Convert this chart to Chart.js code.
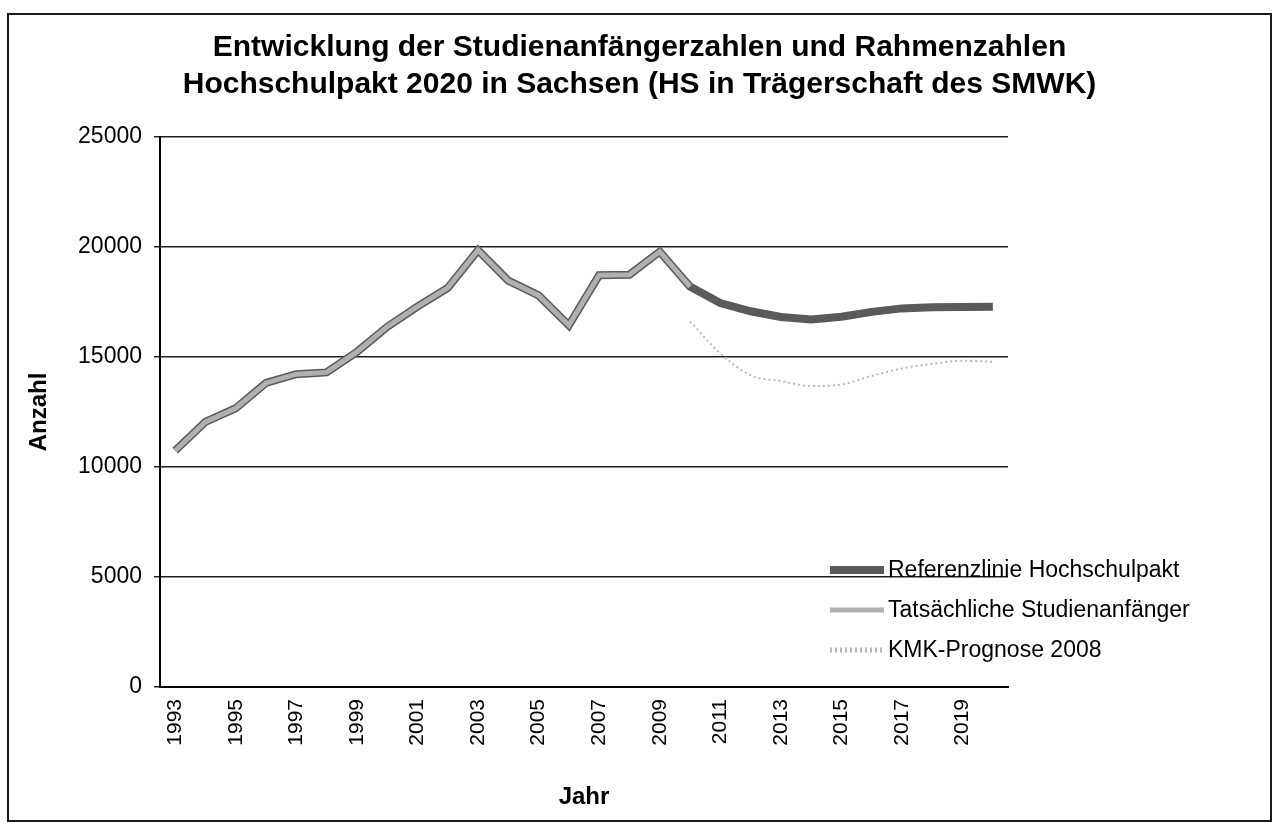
<!DOCTYPE html>
<html lang="de">
<head>
<meta charset="utf-8">
<title>Studienanfänger Sachsen</title>
<script src="https://cdn.jsdelivr.net/npm/chart.js@4.4.1/dist/chart.umd.min.js"></script>
<style>
  html, body { margin: 0; padding: 0; background: #fff; }
  #wrap  { position: relative; width: 1279px; height: 827px; }
  #frame { position: absolute; left: 7px; top: 13px; width: 1265px; height: 809px;
           box-sizing: border-box; border: 2px solid #1a1a1a; pointer-events: none; }
</style>
</head>
<body>
<div id="wrap">
  <canvas id="chart" width="1279" height="827"></canvas>
  <div id="frame"></div>
</div>
<script>
// ==========================================
//  STUDIENANFÄNGER SACHSEN / HOCHSCHULPAKT 2020
// ==========================================

var TITLE = ['Entwicklung der Studienanfängerzahlen und Rahmenzahlen',
             'Hochschulpakt 2020 in Sachsen (HS in Trägerschaft des SMWK)'];

var YEARS = ['1993', '1994', '1995', '1996', '1997', '1998', '1999', '2000', '2001', '2002',
             '2003', '2004', '2005', '2006', '2007', '2008', '2009', '2010', '2011', '2012',
             '2013', '2014', '2015', '2016', '2017', '2018', '2019', '2020'];

// Referenzlinie Hochschulpakt
var REFERENZ = [10740, 12050, 12670, 13820, 14220, 14300, 15230, 16370, 17290, 18140,
                19850, 18470, 17800, 16440, 18720, 18740, 19790, 18200, 17450, 17080,
                16820, 16710, 16830, 17050, 17210, 17260, 17270, 17280];

// Tatsächliche Studienanfänger
var TATSAECHLICH = [10740, 12050, 12670, 13820, 14220, 14300, 15230, 16370, 17290, 18140,
                    19850, 18470, 17800, 16440, 18720, 18740, 19790, 18200, null, null,
                    null, null, null, null, null, null, null, null];

// KMK-Prognose 2008
var KMK = [null, null, null, null, null, null, null, null, null, null,
           null, null, null, null, null, null, null, 16620, 15170, 14170,
           13910, 13680, 13750, 14140, 14480, 14690, 14830, 14780];

var Y_TICKS = [0, 5000, 10000, 15000, 20000, 25000];

(function () {
  'use strict';

  var FAMILY = "'Liberation Sans', Arial, sans-serif";

  // title centred on the whole frame, not only on the plot
  var titleBox = {
    id: 'titleBox',
    afterDraw: function (chart) {
      var ctx = chart.ctx;
      ctx.save();
      ctx.font         = 'bold 30px ' + FAMILY;
      ctx.fillStyle    = '#000';
      ctx.textAlign    = 'center';
      ctx.textBaseline = 'middle';
      TITLE.forEach(function (line, i) {
        ctx.fillText(line, chart.width / 2, 48 + i * 37);
      });
      ctx.restore();
    }
  };

  // legend drawn inside the plot, bottom right, like the original
  var legendBox = {
    id: 'legendBox',
    afterDraw: function (chart) {
      var ctx  = chart.ctx;
      var area = chart.chartArea;
      var x0   = area.right - 178;
      var y0   = area.bottom - 117;
      ctx.save();
      ctx.font         = '23px ' + FAMILY;
      ctx.textBaseline = 'middle';
      ctx.textAlign    = 'left';
      chart.data.datasets.forEach(function (ds, i) {
        var y = y0 + i * 40;
        ctx.strokeStyle = ds.borderColor;
        ctx.lineWidth   = Math.max(ds.borderWidth, 5);
        ctx.setLineDash(ds.borderDash || []);
        ctx.beginPath();
        ctx.moveTo(x0, y);
        ctx.lineTo(x0 + 54, y);
        ctx.stroke();
        ctx.setLineDash([]);
        ctx.fillStyle = '#000';
        ctx.fillText(ds.label, x0 + 58, y + 1);
      });
      ctx.restore();
    }
  };

  var ctx = document.getElementById('chart').getContext('2d');
  new Chart(ctx, {
    type: 'line',
    data: {
      labels: YEARS,
      datasets: [
        {
          label:       'Referenzlinie Hochschulpakt',
          data:        REFERENZ,
          borderColor: '#5a5a5a',
          borderWidth: 8,
          tension:     0,
          pointRadius: 0,
          order:       1,
        },
        {
          label:       'Tatsächliche Studienanfänger',
          data:        TATSAECHLICH,
          borderColor: '#b0b0b0',
          borderWidth: 5,
          tension:     0,
          pointRadius: 0,
          order:       0,
        },
        {
          label:       'KMK-Prognose 2008',
          data:        KMK,
          borderColor: '#b8b8b8',
          borderWidth: 2,
          borderDash:  [2, 3],
          cubicInterpolationMode: 'monotone',
          pointRadius: 0,
          order:       2,
        },
      ],
    },
    options: {
      responsive: false,
      animation:  false,
      layout: { padding: { top: 137, right: 271, bottom: 15, left: 0 } },
      plugins: {
        legend:  { display: false },
        tooltip: { enabled: false },
        title:   { display: false },
      },
      scales: {
        x: {
          offset: true,
          grid:   { display: false, drawTicks: false },
          border: { display: true, color: '#000', width: 2 },
          ticks: {
            autoSkip:    false,
            maxRotation: 90,
            minRotation: 90,
            padding:     12,
            color:       '#000',
            font:        { family: FAMILY, size: 21 },
            callback: function (v, i) { return i % 2 === 0 ? YEARS[i] : ''; },
          },
          title: {
            display: true,
            text:    'Jahr',
            color:   '#000',
            font:    { family: FAMILY, size: 24, weight: 'bold' },
            padding: { top: 0, bottom: 0 },
          },
          afterFit: function (s) { s.height = 125; },
        },
        y: {
          min: 0,
          max: 25000,
          afterBuildTicks: function (s) { s.ticks = Y_TICKS.map(function (v) { return { value: v }; }); },
          grid:   { color: '#1e1e1e', lineWidth: 1.5, tickLength: 6 },
          border: { display: true, color: '#000', width: 2 },
          ticks: {
            padding:  12,
            color:    '#000',
            font:     { family: FAMILY, size: 23 },
            callback: function (v) { return String(v); },
          },
          title: {
            display: true,
            text:    'Anzahl',
            color:   '#000',
            font:    { family: FAMILY, size: 24, weight: 'bold' },
            padding: { top: 25, bottom: 0 },
          },
          afterFit: function (s) { s.width = 160; },
        },
      },
    },
    plugins: [titleBox, legendBox],
  });
}());
</script>
</body>
</html>
